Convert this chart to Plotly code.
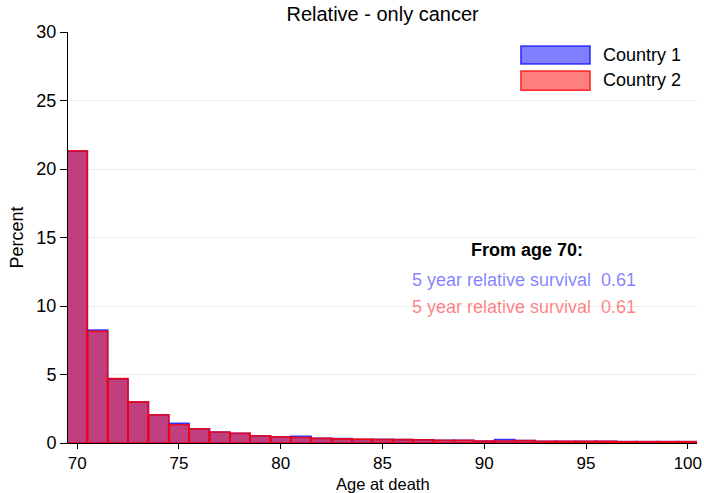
import plotly.graph_objects as go

# Percent of deaths by single year of age, starting at age 70
ages = list(range(70, 101))
country1 = [21.30, 8.25, 4.68, 2.98, 2.06, 1.43, 1.04, 0.80, 0.70, 0.53,
            0.46, 0.48, 0.34, 0.32, 0.26, 0.27, 0.25, 0.24, 0.20, 0.20,
            0.15, 0.25, 0.18, 0.12, 0.12, 0.12, 0.12, 0.10, 0.10, 0.10, 0.10]
country2 = [21.33, 8.15, 4.70, 3.00, 2.06, 1.33, 1.04, 0.80, 0.70, 0.53,
            0.46, 0.40, 0.34, 0.30, 0.28, 0.25, 0.25, 0.24, 0.20, 0.20,
            0.15, 0.15, 0.18, 0.12, 0.12, 0.12, 0.12, 0.10, 0.10, 0.10, 0.10]
series_names = ["Country 1", "Country 2"]
survival = [0.61, 0.61]
start_age = 70

x_ticks = [70, 75, 80, 85, 90, 95, 100]
y_ticks = [0, 5, 10, 15, 20, 25, 30]

FONT = "Liberation Sans, Arial, sans-serif"
fills = ["rgba(0,0,255,0.5)", "rgba(255,0,0,0.5)"]
lines = ["rgba(0,0,255,0.75)", "rgba(255,0,0,0.8)"]
text_cols = ["rgba(0,0,255,0.5)", "rgba(255,0,0,0.5)"]

fig = go.Figure()
for name, vals, fc, lc in zip(series_names, [country1, country2], fills, lines):
    fig.add_trace(go.Bar(
        x=ages, y=vals, width=1, name=name,
        marker=dict(color=fc, line=dict(color=lc, width=1.6)),
        showlegend=False,
    ))

# Legend swatches and labels (top right)
sw_x0, sw_x1 = 0.720, 0.830
sw_rows = [(0.922, 0.966), (0.858, 0.905)]
label_y = [0.944, 0.882]
for (y0, y1), fc, lc, ly, name in zip(sw_rows, fills, lines, label_y, series_names):
    fig.add_shape(type="rect", xref="paper", yref="paper",
                  x0=sw_x0, x1=sw_x1, y0=y0, y1=y1,
                  fillcolor=fc, line=dict(color=lc, width=1.5))
    fig.add_annotation(xref="paper", yref="paper", x=0.847, y=ly,
                       text=name, showarrow=False, xanchor="left", yanchor="middle",
                       font=dict(family=FONT, size=18, color="black"))

# Survival summary text
fig.add_annotation(xref="paper", yref="paper", x=0.730, y=0.470,
                   text=f"<b>From age {start_age}:</b>", showarrow=False,
                   xanchor="center", yanchor="middle",
                   font=dict(family=FONT, size=18, color="black"))
for s, tc, yy in zip(survival, text_cols, [0.397, 0.331]):
    fig.add_annotation(xref="paper", yref="paper", x=0.725, y=yy,
                       text=f"5 year relative survival\u00a0\u00a0{s:.2f}",
                       showarrow=False, xanchor="center", yanchor="middle",
                       font=dict(family=FONT, size=18, color=tc))

# x-axis title, placed just under the tick labels
fig.add_annotation(xref="paper", yref="paper", x=0.5, y=-0.1, yshift=0,
                   text="Age at death", showarrow=False,
                   xanchor="center", yanchor="middle",
                   font=dict(family=FONT, size=16.5, color="black"))

fig.update_layout(
    width=704, height=493,
    margin=dict(l=68, r=7, t=32, b=50, autoexpand=False),
    barmode="overlay",
    plot_bgcolor="white", paper_bgcolor="white",
    font=dict(family=FONT, size=18, color="black"),
    title=dict(text="Relative - only cancer", x=0.5435, xanchor="center",
               y=0.972, yanchor="middle", font=dict(family=FONT, size=20, color="black")),
    xaxis=dict(range=[69.55, 100.45], tickvals=x_ticks, ticks="outside", ticklen=5,
               tickcolor="black", showline=True, linecolor="black", linewidth=1,
               showgrid=False, zeroline=False, automargin=False,
               tickfont=dict(size=17)),
    yaxis=dict(range=[0, 30], tickvals=y_ticks, ticks="outside", ticklen=7,
               tickcolor="black", showline=True, linecolor="black", linewidth=1,
               showgrid=True, gridcolor="#e8eef2", gridwidth=1, zeroline=False,
               automargin=False,
               title=dict(text="Percent", standoff=8, font=dict(size=18)),
               tickfont=dict(size=18)),
)

fig.write_html("out.html")
